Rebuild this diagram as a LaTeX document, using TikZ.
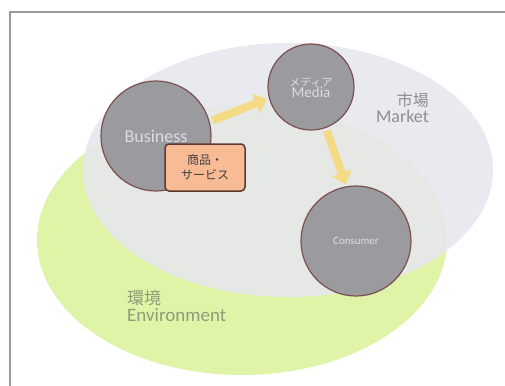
\documentclass[tikz,border=0pt]{standalone}
\usepackage{fontspec}
\setmainfont{Carlito}
\newfontfamily\jp{Noto Sans CJK JP}
\usetikzlibrary{arrows.meta}
\definecolor{framec}{HTML}{9A9A9A}
\definecolor{envgreen}{HTML}{E0F4A8}
\definecolor{mktgrey}{HTML}{E6E7EE}
\definecolor{circfill}{HTML}{9B9A9F}
\definecolor{circline}{HTML}{7A5050}
\definecolor{boxfill}{HTML}{F9BA96}
\definecolor{boxline}{HTML}{5A3A30}
\definecolor{arrowc}{HTML}{F5DA86}
\definecolor{mkttext}{HTML}{8E8E92}
\definecolor{envtext}{HTML}{8C9C78}
\definecolor{circtext}{HTML}{DCDCE2}
\tikzset{
  actor/.style={circle, fill=circfill, draw=circline, line width=1.2pt, inner sep=0pt, text=circtext, align=center},
  prodbox/.style={rectangle, rounded corners=4pt, fill=boxfill, draw=boxline, line width=1.5pt, minimum width=80pt, minimum height=47pt, align=center, text=black!75, font=\jp\fontsize{12}{15}\selectfont},
  flow/.style={line width=8pt, arrowc, -{Triangle[width=20pt,length=12pt]}, shorten <=3pt, shorten >=2pt},
  lbl/.style={inner sep=0pt}
}
\begin{document}
\begin{tikzpicture}[x=1pt,y=-1pt]
\useasboundingbox (0,0) rectangle (505,385);
\fill[white] (0,0) rectangle (505,385);
\draw[framec, line width=1.5pt] (10,386) -- (10,12) -- (506,12);
\fill[envgreen] (242,240) ellipse [x radius=205pt, y radius=135pt];
\fill[mktgrey, opacity=0.88] (288,170) ellipse [x radius=205pt, y radius=127pt];

\node[actor, minimum size=110pt, font=\fontsize{18}{20}\selectfont] (bus) at (156,136) {Business};
\node[actor, minimum size=86pt] (med) at (311,87) {{\jp\fontsize{11}{13}\selectfont メディア}\\[-1pt]{\fontsize{15}{17}\selectfont Media}};
\node[actor, minimum size=110pt, font=\fontsize{11}{13}\selectfont] (con) at (356,241) {Consumer};
\node[prodbox] (prod) at (205,167.5) {商品・\\サービス};

\draw[flow] (bus.15) -- (med.195);
\draw[flow] (med.-70) -- (con.100);

\node[lbl, anchor=east, align=right, text=mkttext] (mkt) at (429,108) {{\jp\fontsize{16}{18}\selectfont 市場}\\[1pt]{\fontsize{18}{20}\selectfont Market}};
\node[lbl, anchor=west, align=left, text=envtext] (env) at (127,306) {{\jp\fontsize{17}{19}\selectfont 環境}\\[1pt]{\fontsize{19}{21}\selectfont Environment}};
\end{tikzpicture}
\end{document}
